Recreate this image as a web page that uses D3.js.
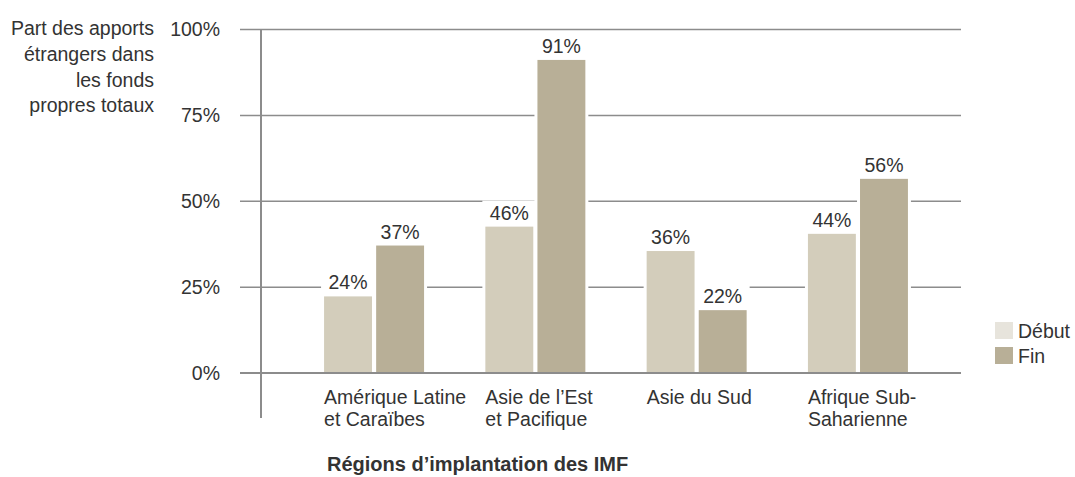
<!DOCTYPE html>
<html>
<head>
<meta charset="utf-8">
<script src="https://cdn.jsdelivr.net/npm/d3@7"></script>
<style>
  body { margin: 0; background: #fff; }
  text { font-family: "Liberation Sans", Arial, sans-serif; fill: #333; }
</style>
</head>
<body>
<script>
// data
const regions = [["Amérique Latine", "et Caraïbes"], ["Asie de l’Est", "et Pacifique"], ["Asie du Sud"], ["Afrique Sub-", "Saharienne"]];
const series = ["Début", "Fin"];
// bar heights as drawn (the printed labels differ slightly from the drawn heights)
const debutValues = [22.2, 42.5, 35.4, 40.4];
const finValues = [37.0, 91.0, 18.2, 56.4];
const debutLabels = ["24%", "46%", "36%", "44%"];
const finLabels = ["37%", "91%", "22%", "56%"];
const yTicks = [0, 25, 50, 75, 100];
const yTitle = ["Part des apports", "étrangers dans", "les fonds", "propres totaux"];
const xTitle = "Régions d’implantation des IMF";

const [w, h] = [1075, 477];
const colors = { "Début": "#d3cdbb", "Fin": "#b8af97" };
const legendColors = { "Début": "#e7e4dc", "Fin": "#b8af97" };
const gridColor = "#8c8c8c";
const fs = 19.5;

const svg = d3.select('body')
    .append('svg')
    .attr('width', w)
    .attr('height', h);

const yScale = d3.scaleLinear()
    .domain([0, 100])
    .range([372.7, 29]);

const xScale = d3.scaleBand()
    .domain(regions.map((d, i) => i))
    .range([266, 966])
    .paddingInner(0.38)
    .paddingOuter(0.36);

const xSub = d3.scaleBand()
    .domain(series)
    .range([0, xScale.bandwidth()])
    .paddingInner(0.08);

// gridlines + tick labels
const yAxis = d3.axisLeft(yScale)
    .tickValues(yTicks)
    .tickFormat(d => d + '%')
    .tickSizeInner(-(961 - 240))
    .tickSizeOuter(0)
    .tickPadding(20);

const gy = svg.append('g')
    .attr('transform', 'translate(240, 0)')
    .call(yAxis);
gy.select('.domain').remove();
gy.selectAll('line').attr('stroke', gridColor).attr('stroke-width', 1.5);
gy.selectAll('text')
    .attr('font-size', fs)
    .attr('font-family', '"Liberation Sans", Arial, sans-serif')
    .attr('fill', '#333')
    .attr('dy', '0.35em');

// y title
svg.append('g').selectAll('text')
    .data(yTitle)
    .join('text')
    .attr('x', 154)
    .attr('y', (d, i) => 35 + i * 25.8)
    .attr('text-anchor', 'end')
    .attr('font-size', fs)
    .text(d => d);

// flatten bars
const bars = [];
regions.forEach((r, i) => {
    bars.push({ i, s: "Début", v: debutValues[i], label: debutLabels[i] });
    bars.push({ i, s: "Fin", v: finValues[i], label: finLabels[i] });
});
const bx = d => xScale(d.i) + xSub(d.s);

// white knockouts so gridlines break around bars and their labels
svg.append('g').selectAll('rect')
    .data(bars)
    .join('rect')
    .attr('x', d => bx(d) - 3)
    .attr('y', d => yScale(d.v) - 26)
    .attr('width', xSub.bandwidth() + 6)
    .attr('height', d => yScale(0) - yScale(d.v) + 26)
    .attr('fill', '#fff');

svg.append('g').selectAll('rect')
    .data(bars)
    .join('rect')
    .attr('x', bx)
    .attr('y', d => yScale(d.v))
    .attr('width', xSub.bandwidth())
    .attr('height', d => yScale(0) - yScale(d.v))
    .attr('fill', d => colors[d.s]);

svg.append('g').selectAll('text')
    .data(bars)
    .join('text')
    .attr('x', d => bx(d) + xSub.bandwidth() / 2)
    .attr('y', d => yScale(d.v) - 7)
    .attr('text-anchor', 'middle')
    .attr('font-size', fs)
    .text(d => d.label);

// zero line and vertical axis
svg.append('line')
    .attr('x1', 240).attr('x2', 961)
    .attr('y1', yScale(0)).attr('y2', yScale(0))
    .attr('stroke', gridColor).attr('stroke-width', 1.5);

svg.append('line')
    .attr('x1', 261).attr('x2', 261)
    .attr('y1', yScale(100)).attr('y2', 418)
    .attr('stroke', gridColor).attr('stroke-width', 2);

// category labels, one text per line
regions.forEach((lines, i) => {
    svg.append('g').selectAll('text')
        .data(lines)
        .join('text')
        .attr('x', xScale(i))
        .attr('y', (d, j) => 404 + j * 22)
        .attr('font-size', fs)
        .text(d => d);
});

// x title
svg.append('text')
    .attr('x', 327)
    .attr('y', 471)
    .attr('font-size', 20)
    .attr('font-weight', 'bold')
    .text(xTitle);

// legend
const legend = svg.append('g');
legend.selectAll('rect')
    .data(series)
    .join('rect')
    .attr('x', 995)
    .attr('y', (d, i) => 322 + i * 25)
    .attr('width', 18)
    .attr('height', 17)
    .attr('fill', d => legendColors[d]);
legend.selectAll('text')
    .data(series)
    .join('text')
    .attr('x', 1018)
    .attr('y', (d, i) => 338 + i * 25)
    .attr('font-size', fs)
    .text(d => d);
</script>
</body>
</html>
